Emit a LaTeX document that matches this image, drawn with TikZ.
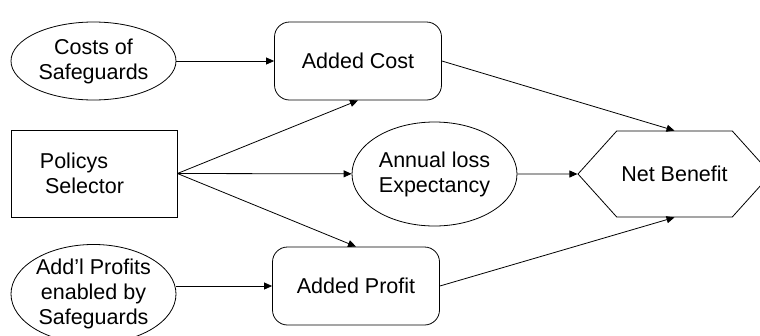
\documentclass[tikz,border=0pt]{standalone}
\usepackage{fontspec}
\setmainfont{Liberation Sans}
\usetikzlibrary{arrows.meta,shapes.geometric,shapes.symbols}

\begin{document}
\begin{tikzpicture}[x=1pt,y=-1pt,
    every node/.style={font=\fontsize{21.5}{25}\selectfont,align=center,inner sep=0pt,line width=0.8pt},
    oval/.style={draw,ellipse,minimum width=165pt,minimum height=78pt},
    roundbox/.style={draw,rounded corners=15pt,minimum width=167pt,minimum height=78pt},
    plainbox/.style={draw,minimum width=166pt,minimum height=87pt},
    link/.style={line width=0.8pt,-{Triangle[length=8pt,width=7pt]}}]
    \useasboundingbox (0,0) rectangle (760,335);

    % Define the nodes
    \node[oval] (safecost) at (93.5,61) {Costs of\\Safeguards};
    \node[roundbox] (addcost) at (358,61) {Added Cost};
    \node[plainbox] (policy) at (94,173.5) {\hspace*{-40pt}Policys\\\hspace*{-19pt}Selector};
    \node[oval,minimum height=104pt] (ale) at (434.5,174) {Annual loss\\Expectancy};
    \node[draw,signal,signal to=west and east,signal pointer angle=96,
          minimum width=193pt,minimum height=86pt] (net) at (674.5,174) {Net Benefit};
    \node[oval,minimum height=88pt] (safeprofit) at (93.5,294) {Add'l Profits\\enabled by\\Safeguards};
    \node[roundbox] (addprofit) at (356,286) {Added Profit};

    % Draw the links
    \draw[link] (safecost) -- (addcost);
    \draw[link] (policy.east) -- (addcost.south);
    \draw[link] (policy.east) -- (ale);
    \draw[link] (policy.east) -- (addprofit.north);
    \draw[link] (safeprofit.east |- addprofit) -- (addprofit);
    \draw[link] (addcost.east) -- (net.north);
    \draw[link] (ale) -- (net);
    \draw[link] (addprofit.east) -- (net.south);
\end{tikzpicture}
\end{document}
